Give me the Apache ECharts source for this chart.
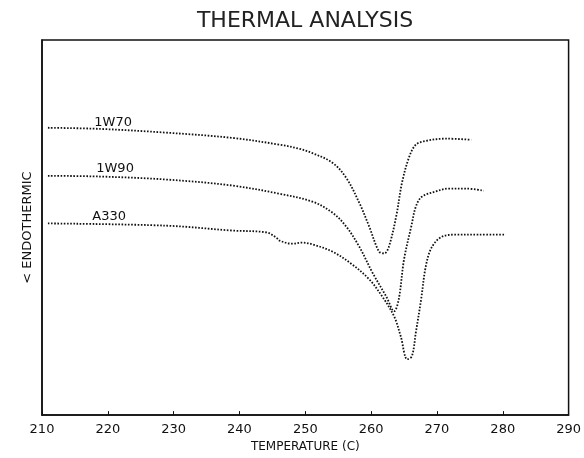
<!DOCTYPE html>
<html>
<head>
<meta charset="utf-8">
<script src="https://cdn.jsdelivr.net/npm/echarts@6/dist/echarts.min.js"></script>
<style>
    html, body { margin: 0; padding: 0; background: #fff; }
    #chart { width: 584px; height: 458px; }
</style>
</head>
<body>
<div id="chart"></div>
<script>
// temperatures (C) and signal (arbitrary units, 0-100)
const temp1W70 = [210.9, 218.8, 228.9, 238.9, 246.1, 249.1, 251.0, 254.1, 256.2, 258.2, 259.7, 261.2, 262.0, 262.7, 263.8, 264.7, 265.8, 266.8, 268.3, 271.4, 275.2];
const sig1W70 = [76.6, 76.3, 75.3, 73.9, 72.1, 71.0, 69.9, 67.3, 63.3, 56.6, 50.3, 43.6, 43.1, 44.9, 52.9, 62.0, 68.9, 72.1, 73.1, 73.7, 73.4];

const temp1W90 = [210.9, 218.8, 228.9, 238.9, 246.1, 251.1, 254.1, 256.2, 258.2, 260.2, 262.3, 263.5, 264.2, 265.0, 266.1, 266.8, 267.7, 269.8, 271.8, 274.4, 277.1];
const sig1W90 = [63.8, 63.6, 62.8, 61.2, 59.0, 56.9, 54.0, 50.3, 44.9, 38.0, 31.6, 27.7, 30.9, 41.5, 50.3, 55.6, 58.2, 59.6, 60.4, 60.4, 59.8];

const tempA330 = [210.9, 228.9, 238.9, 244.1, 245.6, 246.1, 248.0, 249.5, 251.1, 254.1, 257.1, 259.7, 261.7, 263.5, 264.5, 265.5, 266.2, 266.8, 267.6, 268.3, 269.2, 270.8, 272.9, 276.4, 280.2];
const sigA330 = [51.1, 50.5, 49.2, 48.7, 47.3, 46.5, 45.7, 46.0, 45.5, 43.6, 40.2, 36.2, 31.6, 26.3, 21.0, 14.9, 15.7, 22.1, 30.9, 39.6, 44.7, 47.6, 48.1, 48.1, 48.1];

const seriesNames = ['1W70', '1W90', 'A330'];
// where each curve's name is written (temperature, signal)
const labelSpots = [[220.8, 78.0], [221.1, 65.8], [220.2, 53.0]];

const xTicks = [210, 220, 230, 240, 250, 260, 270, 280, 290];

const fontFam = 'DejaVu Sans';

function pairs(xs, ys) {
    return xs.map((x, i) => [x, ys[i]]);
}

const curves = [
    pairs(temp1W70, sig1W70),
    pairs(temp1W90, sig1W90),
    pairs(tempA330, sigA330)
];

let series = curves.map((data, i) => {
    return {
        name: seriesNames[i],
        type: 'line',
        data: data,
        symbol: 'none',
        smooth: 0.35,
        lineStyle: {color: '#111', width: 1.8, type: [1.6, 1.6]},
        markPoint: {
            symbol: 'circle',
            symbolSize: 1,
            silent: true,
            itemStyle: {color: 'rgba(0,0,0,0)'},
            data: [{coord: labelSpots[i], value: seriesNames[i]}],
            label: {
                show: true,
                formatter: seriesNames[i],
                color: '#111',
                fontFamily: fontFam,
                fontSize: 13,
                position: 'inside'
            }
        }
    };
});

let option = {
    animation: false,
    backgroundColor: '#fff',
    title: {
        text: 'THERMAL ANALYSIS',
        left: 300,
        textAlign: 'center',
        top: 5,
        textStyle: {
            fontFamily: fontFam,
            fontWeight: 'normal',
            fontSize: 22,
            color: '#222'
        }
    },
    grid: {
        left: 42,
        right: 14,
        top: 40,
        bottom: 42,
        show: true,
        borderColor: '#111',
        borderWidth: 1.5
    },
    xAxis: {
        type: 'value',
        min: 210,
        max: 290,
        interval: 10,
        name: 'TEMPERATURE (C)',
        nameLocation: 'middle',
        nameGap: 24,
        nameTextStyle: {fontFamily: fontFam, fontSize: 12, color: '#111'},
        axisLine: {show: true, lineStyle: {color: '#111', width: 1.5}},
        axisTick: {show: true, inside: true, length: 4, lineStyle: {color: '#111'}},
        splitLine: {show: false},
        axisLabel: {
            fontFamily: fontFam,
            fontSize: 13,
            color: '#111',
            margin: 8,
            formatter: v => xTicks.includes(v) ? String(v) : ''
        }
    },
    yAxis: {
        type: 'value',
        min: 0,
        max: 100,
        name: '< ENDOTHERMIC',
        nameLocation: 'middle',
        nameRotate: 90,
        nameGap: 8,
        nameTextStyle: {fontFamily: fontFam, fontSize: 13, color: '#111'},
        axisLine: {show: true, lineStyle: {color: '#111', width: 1.5}},
        axisTick: {show: false},
        axisLabel: {show: false},
        splitLine: {show: false}
    },
    series: series
};

let myChart = echarts.init(document.getElementById('chart'));
myChart.setOption(option);
</script>
</body>
</html>
